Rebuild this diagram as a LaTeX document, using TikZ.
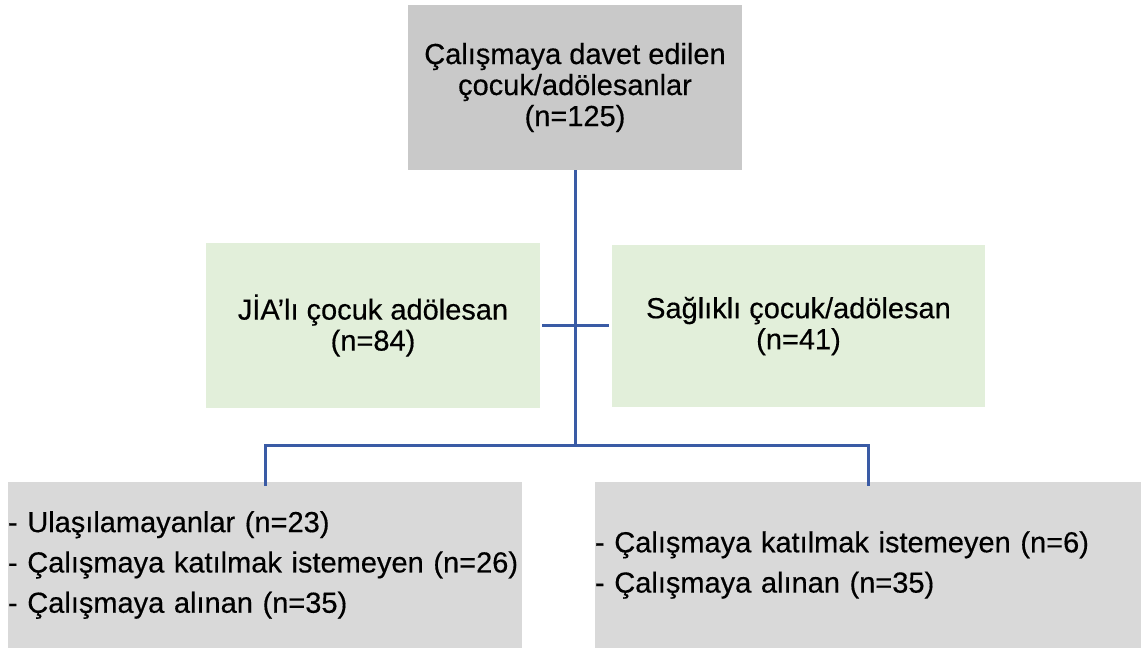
\documentclass[tikz,border=0pt]{standalone}
\usepackage{fontspec}
\setmainfont{Liberation Sans}[FakeBold=0.4]
\definecolor{topgray}{HTML}{C9C9C9}
\definecolor{boxgreen}{HTML}{E2EFDA}
\definecolor{boxgray}{HTML}{D9D9D9}
\definecolor{linkblue}{HTML}{3A5BA5}
\begin{document}
\begin{tikzpicture}[x=1pt,y=-1pt,
  box/.style={inner sep=0pt, outer sep=0pt, anchor=center},
  centerbox/.style={box, align=center, font=\fontsize{29}{31}\selectfont},
  listbox/.style={box, align=left, font=\fontsize{29}{40.3}\selectfont},
  link/.style={draw=linkblue, line width=3pt}]
\useasboundingbox (0,0) rectangle (1146,649);
% boxes
\node[centerbox, fill=topgray, minimum width=334pt, minimum height=165pt] (top) at (575,87.5)
  {Çalışmaya davet edilen\\çocuk/adölesanlar\\(n=125)};
\node[centerbox, fill=boxgreen, minimum width=334pt, minimum height=165pt] (lg) at (373,325.5)
  {JİA’lı çocuk adölesan\\(n=84)};
\node[centerbox, fill=boxgreen, minimum width=373pt, minimum height=162pt] (rg) at (798.5,326)
  {Sağlıklı çocuk/adölesan\\(n=41)};
\node[listbox, fill=boxgray, minimum width=514pt, minimum height=166pt, text width=514pt] (bl) at (265,565)
  {- Ulaşılamayanlar (n=23)\\- Çalışmaya katılmak istemeyen (n=26)\\- Çalışmaya alınan (n=35)};
\node[listbox, fill=boxgray, minimum width=546pt, minimum height=166pt, text width=546pt] (br) at (868,565)
  {- Çalışmaya katılmak istemeyen (n=6)\\- Çalışmaya alınan (n=35)};
% connectors
\coordinate (hub) at (575,445);
\coordinate (bldrop) at ([yshift=-4pt]bl.north);
\coordinate (brdrop) at ([yshift=-4pt]br.north);
\coordinate (crossL) at ([xshift=2pt]lg.east);
\coordinate (crossR) at ([xshift=-3pt]rg.west |- crossL);
\draw[link] (top.south) -- (hub);
\draw[link] (crossL) -- (crossR);
\draw[link] (bldrop) -- (bldrop |- hub) -- (brdrop |- hub) -- (brdrop);
\end{tikzpicture}
\end{document}
